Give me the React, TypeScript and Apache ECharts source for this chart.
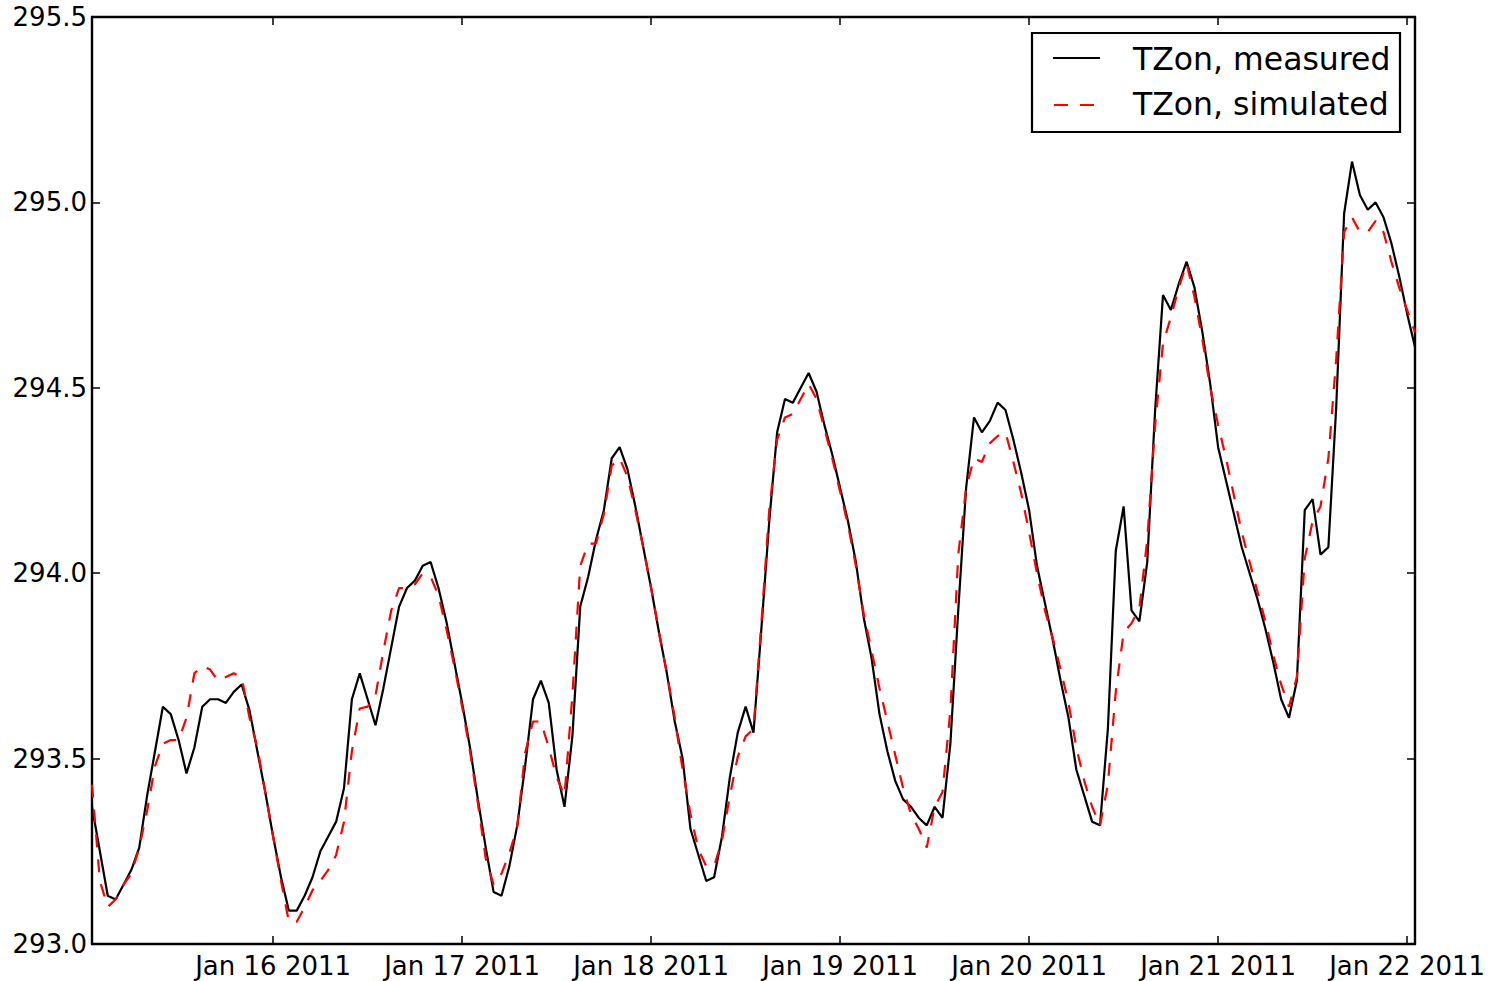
import React, { useEffect, useRef } from "react";
import * as echarts from "echarts";

// Hourly samples starting at this instant (UTC)
const START_TIME = "2011-01-15T01:00:00Z";
const STEP_HOURS = 1;

const measured = [
  293.37, 293.25, 293.13, 293.12, 293.16, 293.2, 293.26, 293.4, 293.52, 293.64,
  293.62, 293.55, 293.46, 293.53, 293.64, 293.66, 293.66, 293.65, 293.68, 293.7,
  293.63, 293.52, 293.41, 293.29, 293.18, 293.09, 293.09, 293.13, 293.18, 293.25,
  293.29, 293.33, 293.42, 293.66, 293.73, 293.66, 293.59, 293.69, 293.8, 293.91,
  293.96, 293.98, 294.02, 294.03, 293.96, 293.87, 293.76, 293.65, 293.53, 293.39,
  293.26, 293.14, 293.13, 293.21, 293.32, 293.48, 293.66, 293.71, 293.65, 293.47,
  293.37, 293.56, 293.91, 293.99, 294.09, 294.17, 294.31, 294.34, 294.28, 294.18,
  294.07, 293.96, 293.84, 293.73, 293.6, 293.5, 293.31, 293.24, 293.17, 293.18,
  293.29, 293.45, 293.57, 293.64, 293.57, 293.85, 294.14, 294.38, 294.47, 294.46,
  294.5, 294.54, 294.49, 294.4, 294.32, 294.23, 294.14, 294.03, 293.88, 293.77,
  293.62, 293.52, 293.44, 293.39, 293.37, 293.34, 293.32, 293.37, 293.34, 293.54,
  293.9, 294.23, 294.42, 294.38, 294.41, 294.46, 294.44, 294.36, 294.27, 294.17,
  294.02, 293.92, 293.82, 293.71, 293.61, 293.47, 293.4, 293.33, 293.32, 293.58,
  294.06, 294.18, 293.9, 293.87, 294.03, 294.44, 294.75, 294.71, 294.78, 294.84,
  294.77, 294.65, 294.51, 294.34, 294.25, 294.16, 294.07, 294.0, 293.93, 293.85,
  293.76, 293.66, 293.61, 293.71, 294.17, 294.2, 294.05, 294.07, 294.45, 294.97,
  295.11, 295.02, 294.98, 295.0, 294.96, 294.89, 294.8, 294.7, 294.61,
];

const simulated = [
  293.43, 293.17, 293.1, 293.12, 293.16, 293.19, 293.26, 293.36, 293.48, 293.54,
  293.55, 293.55, 293.61, 293.73, 293.75, 293.74, 293.71, 293.72, 293.73, 293.72,
  293.61, 293.53, 293.41, 293.29, 293.17, 293.06, 293.06, 293.1, 293.145, 293.17,
  293.2, 293.24, 293.33, 293.52, 293.635, 293.64, 293.67, 293.79, 293.9, 293.96,
  293.96, 293.97, 294.0, 293.99, 293.94, 293.85, 293.75, 293.64, 293.52, 293.38,
  293.23, 293.16, 293.19, 293.245, 293.315, 293.515, 293.6, 293.6, 293.53, 293.45,
  293.4, 293.67, 294.02, 294.08, 294.08, 294.16, 294.29, 294.31, 294.26, 294.17,
  294.07, 293.96, 293.84, 293.73, 293.61, 293.47, 293.35, 293.255, 293.21, 293.21,
  293.28, 293.4, 293.505, 293.56, 293.58, 293.865, 294.17, 294.36, 294.42, 294.43,
  294.47, 294.51, 294.47, 294.39, 294.31, 294.22, 294.13, 294.02, 293.89, 293.79,
  293.69, 293.6, 293.51, 293.42, 293.35, 293.31, 293.26, 293.37, 293.41, 293.63,
  294.05, 294.23, 294.31, 294.3, 294.35, 294.37, 294.38, 294.3, 294.215, 294.11,
  294.0, 293.9, 293.825, 293.74, 293.65, 293.53, 293.44, 293.37, 293.32, 293.43,
  293.68, 293.84, 293.865, 293.905, 294.09, 294.4, 294.62, 294.69, 294.77, 294.835,
  294.745, 294.63, 294.5, 294.4, 294.31, 294.21, 294.11, 294.03, 293.95, 293.87,
  293.78, 293.7, 293.64, 293.72, 294.04, 294.14, 294.18, 294.31, 294.58, 294.92,
  294.96, 294.92, 294.92, 294.95, 294.92, 294.84, 294.77, 294.71, 294.65,
];

const xTickDates = [
  "2011-01-16T00:00:00Z",
  "2011-01-17T00:00:00Z",
  "2011-01-18T00:00:00Z",
  "2011-01-19T00:00:00Z",
  "2011-01-20T00:00:00Z",
  "2011-01-21T00:00:00Z",
  "2011-01-22T00:00:00Z",
];
const xTickLabels = [
  "Jan 16 2011",
  "Jan 17 2011",
  "Jan 18 2011",
  "Jan 19 2011",
  "Jan 20 2011",
  "Jan 21 2011",
  "Jan 22 2011",
];

const Y_MIN = 293.0;
const Y_MAX = 295.5;
const Y_STEP = 0.5;

const seriesNames = ["TZon, measured", "TZon, simulated"];

const FONT = "'DejaVu Sans', 'Bitstream Vera Sans', sans-serif";

export default function App() {
  const ref = useRef<HTMLDivElement>(null);

  useEffect(() => {
    if (!ref.current) return;
    const chart = echarts.init(ref.current, null, { renderer: "svg" });
    const t0 = Date.parse(START_TIME);
    const hour = 3600 * 1000;
    const times = measured.map((_, i) => t0 + i * STEP_HOURS * hour);
    const tickTs = xTickDates.map((d) => Date.parse(d));
    const xMin = times[0];
    const xMax = times[times.length - 1];

    const axisLine = {
      show: true,
      onZero: false,
      lineStyle: { color: "#000", width: 2.4 },
    };
    const tick = {
      show: true,
      inside: true,
      length: 8,
      lineStyle: { color: "#000", width: 1.5 },
    };
    const xLabel = (v: number) => {
      let best = 0;
      for (let k = 1; k < tickTs.length; k++) {
        if (Math.abs(tickTs[k] - v) < Math.abs(tickTs[best] - v)) best = k;
      }
      return xTickLabels[best];
    };

    chart.setOption({
      animation: false,
      backgroundColor: "#ffffff",
      grid: { left: 92, right: 76, top: 17, bottom: 37, containLabel: false },
      xAxis: [
        {
          type: "value",
          position: "bottom",
          min: xMin,
          max: xMax,
          axisLine,
          axisTick: { ...tick, customValues: tickTs },
          axisLabel: {
            customValues: tickTs,
            formatter: xLabel,
            fontFamily: FONT,
            fontSize: 26,
            color: "#000",
            margin: 9,
          },
          splitLine: { show: false },
        },
        {
          type: "value",
          position: "top",
          min: xMin,
          max: xMax,
          axisLine,
          axisTick: { ...tick, customValues: tickTs },
          axisLabel: { show: false },
          splitLine: { show: false },
        },
      ],
      yAxis: [
        {
          type: "value",
          position: "left",
          min: Y_MIN,
          max: Y_MAX,
          interval: Y_STEP,
          axisLine,
          axisTick: tick,
          axisLabel: {
            formatter: (v: number) => v.toFixed(1),
            fontFamily: FONT,
            fontSize: 26,
            color: "#000",
            margin: 5,
          },
          splitLine: { show: false },
        },
        {
          type: "value",
          position: "right",
          min: Y_MIN,
          max: Y_MAX,
          interval: Y_STEP,
          axisLine,
          axisTick: tick,
          axisLabel: { show: false },
          splitLine: { show: false },
        },
      ],
      series: [
        {
          name: seriesNames[0],
          type: "line",
          xAxisIndex: 0,
          yAxisIndex: 0,
          data: times.map((t, i) => [t, measured[i]]),
          symbol: "none",
          lineStyle: { color: "#000000", width: 2.2 },
          itemStyle: { color: "#000000" },
          z: 2,
        },
        {
          name: seriesNames[1],
          type: "line",
          xAxisIndex: 0,
          yAxisIndex: 0,
          data: times.map((t, i) => [t, simulated[i]]),
          symbol: "none",
          lineStyle: { color: "#ff0000", width: 2.2, type: [13, 12] },
          itemStyle: { color: "#ff0000" },
          z: 3,
        },
      ],
      graphic: [
        {
          type: "rect",
          z: 100,
          shape: { x: 1032, y: 33, width: 368, height: 99 },
          style: { fill: "#ffffff", stroke: "#000000", lineWidth: 2.2 },
        },
        {
          type: "line",
          z: 101,
          shape: { x1: 1053, y1: 58, x2: 1100, y2: 58 },
          style: { stroke: "#000000", lineWidth: 2.2 },
        },
        {
          type: "line",
          z: 101,
          shape: { x1: 1054, y1: 105, x2: 1100, y2: 105 },
          style: { stroke: "#ff0000", lineWidth: 2.2, lineDash: [14, 12] },
        },
        {
          type: "text",
          z: 101,
          x: 1133,
          y: 59,
          style: {
            text: seriesNames[0],
            fontFamily: FONT,
            fontSize: 31.5,
            fill: "#000000",
            verticalAlign: "middle",
          },
        },
        {
          type: "text",
          z: 101,
          x: 1133,
          y: 104,
          style: {
            text: seriesNames[1],
            fontFamily: FONT,
            fontSize: 31.5,
            fill: "#000000",
            verticalAlign: "middle",
          },
        },
      ],
    });

    return () => {
      chart.dispose();
    };
  }, []);

  return (
    <div
      ref={ref}
      style={{ position: "fixed", left: 0, top: 0, width: 1491, height: 981 }}
    />
  );
}
